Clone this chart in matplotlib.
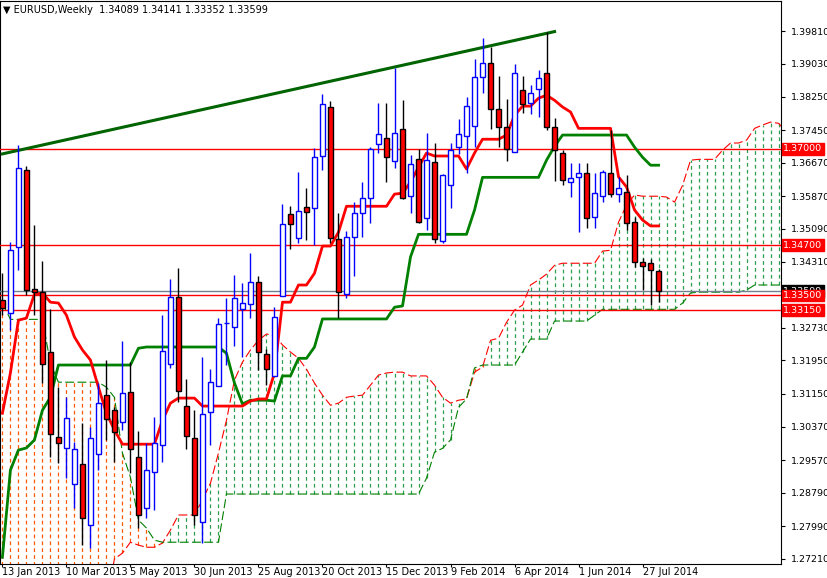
import matplotlib
matplotlib.use("Agg")
import matplotlib.pyplot as plt
import numpy as np

opens = [1.3339,1.3308,1.3465,1.3649,1.3365,1.3358,1.3215,1.3012,1.2986,1.2900,
         1.2947,1.2802,1.2971,1.3112,1.3076,1.3048,1.3119,1.2964,1.2842,1.2928,
         1.2993,1.3186,1.3346,1.3086,1.3010,1.2809,1.3072,1.3134,1.3284,1.3274,
         1.3317,1.3329,1.3382,1.3210,1.3157,1.3348,1.3544,1.3487,1.3561,1.3558,
         1.3683,1.3800,1.3485,1.3353,1.3489,1.3547,1.3582,1.3711,1.3726,1.3671,
         1.3747,1.3587,1.3675,1.3535,1.3668,1.3480,1.3613,1.3704,1.3730,1.3754,
         1.3871,1.3905,1.3795,1.3752,1.3692,1.3840,1.3809,1.3843,1.3881,1.3752,
         1.3690,1.3621,1.3632,1.3642,1.3537,1.3587,1.3642,1.3592,1.3597,1.3525,
         1.3430,1.3427,1.34089]
highs = [1.3403,1.3477,1.3709,1.3659,1.3518,1.3432,1.3317,1.3131,1.3107,1.3000,
         1.3045,1.3036,1.3141,1.3196,1.3083,1.3241,1.3191,1.3026,1.2998,1.3060,
         1.3303,1.3389,1.3415,1.3150,1.3076,1.3203,1.3174,1.3296,1.3344,1.3399,
         1.3379,1.3451,1.3396,1.3222,1.3322,1.3568,1.3563,1.3644,1.3606,1.3702,
         1.3831,1.3814,1.3547,1.3504,1.3573,1.3621,1.3704,1.3809,1.3809,1.3893,
         1.3816,1.3685,1.3699,1.3738,1.3714,1.3640,1.3714,1.3771,1.3823,1.3914,
         1.3964,1.3943,1.3874,1.3819,1.3902,1.3874,1.3852,1.3888,1.3979,1.3773,
         1.3697,1.3666,1.3666,1.3666,1.3642,1.3649,1.3745,1.3632,1.3637,1.3537,
         1.3439,1.3437,1.34141]
lows = [1.3303,1.3267,1.3411,1.3351,1.3303,1.3141,1.2964,1.2950,1.2914,1.2842,
        1.2754,1.2747,1.2933,1.3005,1.2952,1.3029,1.2926,1.2795,1.2819,1.2838,
        1.2952,1.3177,1.3095,1.2983,1.2802,1.2759,1.2993,1.3134,1.3184,1.3229,
        1.3203,1.3296,1.3172,1.3136,1.3157,1.3348,1.3461,1.3475,1.3482,1.3470,
        1.3649,1.3475,1.3296,1.3344,1.3396,1.3489,1.3523,1.3690,1.3621,1.3654,
        1.3580,1.3547,1.3523,1.3506,1.3475,1.3475,1.3558,1.3687,1.3642,1.3704,
        1.3833,1.3747,1.3704,1.3671,1.3692,1.3785,1.3783,1.3776,1.3745,1.3623,
        1.3613,1.3585,1.3501,1.3511,1.3511,1.3573,1.3585,1.3573,1.3506,1.3418,
        1.3363,1.3327,1.33352]
closes = [1.3320,1.3458,1.3654,1.3363,1.3358,1.3186,1.3019,1.2998,1.3057,1.2983,
          1.2818,1.3010,1.3093,1.3055,1.3024,1.3117,1.2983,1.2826,1.2933,1.2998,
          1.3217,1.3346,1.3122,1.3014,1.2826,1.3067,1.3143,1.3282,1.3285,1.3344,
          1.3332,1.3382,1.3215,1.3174,1.3298,1.3520,1.3520,1.3551,1.3549,1.3680,
          1.3807,1.3487,1.3358,1.3489,1.3547,1.3582,1.3699,1.3735,1.3680,1.3738,
          1.3582,1.3664,1.3525,1.3673,1.3485,1.3637,1.3697,1.3735,1.3802,1.3871,
          1.3905,1.3795,1.3752,1.3699,1.3881,1.3807,1.3833,1.3869,1.3752,1.3697,
          1.3625,1.3630,1.3642,1.3535,1.3594,1.3644,1.3592,1.3606,1.3523,1.3430,
          1.3420,1.3411,1.33599]

tenkan = [1.3069,1.3165,1.3291,1.3296,1.3353,1.3356,1.3334,1.3332,1.3303,1.3251,
          1.3220,1.3196,1.3131,1.3069,1.3029,1.2995,1.2995,1.2995,1.2995,1.2995,
          1.3052,1.3093,1.3105,1.3105,1.3105,1.3086,1.3086,1.3086,1.3086,1.3086,
          1.3086,1.3098,1.3103,1.3103,1.3165,1.3334,1.3334,1.3375,1.3375,1.3403,
          1.3468,1.3468,1.3501,1.3563,1.3563,1.3563,1.3563,1.3563,1.3563,1.3592,
          1.3594,1.3621,1.3656,1.3690,1.3683,1.3683,1.3683,1.3683,1.3652,1.3690,
          1.3723,1.3723,1.3723,1.3733,1.3780,1.3802,1.3802,1.3821,1.3828,1.3816,
          1.3800,1.3788,1.3749,1.3749,1.3749,1.3749,1.3749,1.3633,1.3609,1.3554,
          1.3530,1.3516,1.3516]
kijun = [1.2725,1.2933,1.2981,1.2986,1.3005,1.3076,1.3107,1.3184,1.3184,1.3184,
         1.3184,1.3184,1.3184,1.3184,1.3184,1.3184,1.3184,1.3224,1.3227,1.3227,
         1.3227,1.3227,1.3227,1.3227,1.3227,1.3227,1.3227,1.3227,1.3212,1.3141,
         1.3091,1.3100,1.3100,1.3100,1.3098,1.3158,1.3158,1.3200,1.3200,1.3227,
         1.3294,1.3294,1.3294,1.3294,1.3294,1.3294,1.3294,1.3294,1.3294,1.3322,
         1.3325,1.3442,1.3496,1.3496,1.3496,1.3496,1.3496,1.3496,1.3496,1.3554,
         1.3632,1.3632,1.3632,1.3632,1.3632,1.3632,1.3632,1.3632,1.3673,1.3706,
         1.3733,1.3733,1.3733,1.3733,1.3733,1.3733,1.3733,1.3733,1.3733,1.3704,
         1.3680,1.3661,1.3661]
span_a = [1.262]*14 + [1.2721,1.2735,1.2761,1.2754,1.2749,1.2749,1.2759,1.2790,1.2826,1.2826,
          1.2826,1.2862,1.2902,1.2974,1.3052,1.3148,1.3191,1.3220,1.3243,1.3258,
          1.3255,1.3232,1.3215,1.3200,1.3174,1.3141,1.3112,1.3088,1.3093,1.3107,
          1.3110,1.3112,1.3136,1.3160,1.3165,1.3167,1.3167,1.3158,1.3158,1.3158,
          1.3136,1.3107,1.3093,1.3100,1.3103,1.3167,1.3179,1.3243,1.3248,1.3286,
          1.3315,1.3327,1.3375,1.3387,1.3401,1.3422,1.3427,1.3427,1.3427,1.3427,
          1.3427,1.3456,1.3458,1.3525,1.3566,1.3590,1.3587,1.3587,1.3587,1.3585,
          1.3573,1.3613,1.3673,1.3675,1.3675,1.3675,1.3697,1.3714,1.3714,1.3721,
          1.3749,1.3757,1.3764,1.3761,1.3740]
span_b = [1.3332,1.3293,1.3293,1.3293,1.3293,1.3293,1.3188,1.3143,1.3143,1.3143,
          1.3143,1.3143,1.3143,1.3131,1.3107,1.2974,1.2916,1.2814,1.2795,1.2766,
          1.2761,1.2761,1.2761,1.2761,1.2761,1.2761,1.2761,1.2761] + [1.2876]*25 + \
         [1.2914,1.2976,1.2985,1.3005,1.3083,1.3103,1.3177,1.3184,1.3184,1.3184,
          1.3184,1.3184,1.3215,1.3246,1.3246,1.3246,1.3289,1.3289,1.3289,1.3289,
          1.3289,1.3303] + [1.3317]*10 + [1.3332,1.3356] + [1.3358]*6 + [1.3363] + [1.3375]*5

tick_labels = ["13 Jan 2013","10 Mar 2013","5 May 2013","30 Jun 2013","25 Aug 2013",
               "20 Oct 2013","15 Dec 2013","9 Feb 2014","6 Apr 2014","1 Jun 2014","27 Jul 2014"]
price_ticks = [1.39810,1.39030,1.38250,1.37450,1.36670,1.35870,1.35090,1.34310,
               1.32730,1.31950,1.31150,1.30370,1.29570,1.28790,1.27990,1.27210]
levels = [1.37000,1.34700,1.33500,1.33150]
last_price = 1.33599
trend_x = [0, 69]
trend_y = [1.3688, 1.3980]

fig = plt.figure(figsize=(8.28,5.78), dpi=100)
ax = fig.add_axes([0, 14/578, 781/828, 563/578])
ax.set_xlim(-0.3, 97.3)
ax.set_ylim(1.2709, 1.4053)

n = len(opens)
kc = np.arange(len(span_a))
for k in kc:
    a, b = span_a[k], span_b[k]
    col = "#2e9e4f" if a > b else "#ff5a00"
    ax.vlines(k, min(a,b), max(a,b), colors=col, linestyles=(0,(3,2.5)), lw=0.9, zorder=1)
ax.plot(kc, span_a, color="red", lw=0.8, ls=(0,(8,3)), zorder=2)
ax.plot(kc, span_b, color="green", lw=0.8, ls=(0,(8,3)), zorder=2)

for lv in levels:
    ax.axhline(lv, color="red", lw=1.0, zorder=3)
ax.axhline(last_price, color="#708090", lw=1.0, zorder=3)

ax.plot(trend_x, trend_y, color="#006400", lw=2.2, zorder=4)

ax.plot(np.arange(n), kijun, color="green", lw=2.0, zorder=5)
ax.plot(np.arange(n), tenkan, color="red", lw=2.0, zorder=5)

w = 0.6
for k in range(n):
    o, h, l, c = opens[k], highs[k], lows[k], closes[k]
    if c >= o:
        ax.vlines(k, l, h, colors="blue", lw=1.0, zorder=6)
        ax.bar(k, max(c-o, 0.00005), w, bottom=o, color="white", edgecolor="blue", lw=1.0, zorder=7)
    else:
        ax.vlines(k, l, h, colors="black", lw=1.0, zorder=6)
        ax.bar(k, o-c, w, bottom=c, color="red", edgecolor="black", lw=1.0, zorder=7)

ax.yaxis.tick_right()
ax.set_yticks(price_ticks)
ax.set_yticklabels([f"{p:.5f}" for p in price_ticks], fontsize=6.8)
ax.tick_params(axis="y", length=3, pad=4, direction="out")
xt = np.arange(0, 81, 8)
ax.set_xticks(xt)
ax.set_xticklabels(tick_labels, fontsize=7, ha="left")
ax.tick_params(axis="x", length=2, pad=0)
for sp in ax.spines.values():
    sp.set_color("black"); sp.set_linewidth(0.8)

tr = ax.get_yaxis_transform()
ax.text(1.003, last_price, f"{last_price:.5f}", transform=tr, fontsize=6.8, color="white",
        va="center", ha="left", bbox=dict(boxstyle="square,pad=0.15", fc="black", ec="black"), clip_on=False, zorder=9)
for lv in levels:
    ax.text(1.003, lv, f"{lv:.5f}", transform=tr, fontsize=6.8, color="white", va="center", ha="left",
            bbox=dict(boxstyle="square,pad=0.15", fc="red", ec="red"), clip_on=False, zorder=10)

ax.text(0.004, 0.993, "\u25bc EURUSD,Weekly  1.34089 1.34141 1.33352 1.33599", transform=ax.transAxes,
        fontsize=7, va="top", ha="left", zorder=11)

fig.savefig("out.png", dpi=100)
